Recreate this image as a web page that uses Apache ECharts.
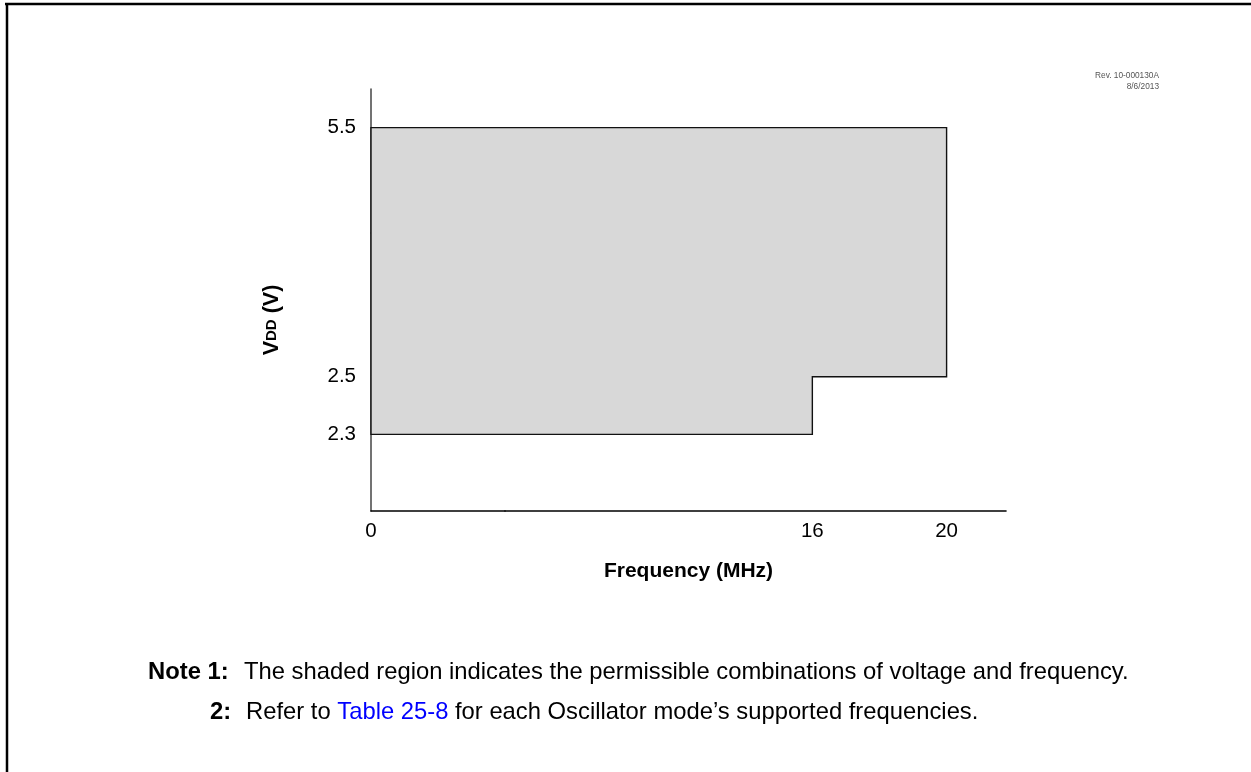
<!DOCTYPE html>
<html><head><meta charset="utf-8">
<script src="https://cdn.jsdelivr.net/npm/echarts@6/dist/echarts.min.js"></script>
<style>html,body{margin:0;padding:0;background:#fff}#c{width:1251px;height:772px}</style>
</head><body><div id="c"></div>
<script>
// Operating region outline (frequency in MHz, VDD in volts)
const freqMHz = [0, 16, 16, 20, 20, 0];
const vddV = [2.3, 2.3, 2.5, 2.5, 5.5, 5.5];
// Axis tick labels
const freqTicks = [0, 16, 20];
const vddTicks = [2.3, 2.5, 5.5];

const FONT = '"Liberation Sans", Arial, sans-serif';
const chart = echarts.init(document.getElementById('c'), null, {renderer: 'canvas'});

chart.setOption({
  animation: false,
  backgroundColor: '#fff',
  grid: {left: 371, top: 89, right: 245, bottom: 261, containLabel: false},
  xAxis: {
    type: 'value',
    min: 0, max: 21.77,
    breaks: [{start: 4, end: 6.85, gap: 0}],
    breakArea: {show: false},
    name: 'Frequency (MHz)',
    nameLocation: 'middle',
    nameGap: 50,
    nameTextStyle: {fontFamily: FONT, fontSize: 21, fontWeight: 'bold', color: '#000'},
    axisLine: {show: true, onZero: false, lineStyle: {color: '#000', width: 1.6}},
    axisTick: {show: false},
    splitLine: {show: false},
    axisLabel: {customValues: freqTicks, fontFamily: FONT, fontSize: 20.5, color: '#000', margin: 10,
      formatter: v => String(v)}
  },
  yAxis: {
    type: 'value',
    min: 2.034, max: 5.634,
    breaks: [{start: 3.0, end: 5.135, gap: 0}],
    breakArea: {show: false},
    name: '{v|V}{d|DD}{v| (V)}',
    nameLocation: 'middle',
    nameGap: 88,
    nameRotate: 90,
    nameTextStyle: {fontFamily: FONT, color: '#000', padding: [0, 40, 0, 0],
      rich: {v: {fontFamily: FONT, fontSize: 21.5, fontWeight: 'bold', color: '#000'},
             d: {fontFamily: FONT, fontSize: 15, fontWeight: 'bold', color: '#000'}}},
    axisLine: {show: true, onZero: false, lineStyle: {color: '#444', width: 1.5}},
    axisTick: {show: false},
    splitLine: {show: false},
    axisLabel: {customValues: vddTicks, fontFamily: FONT, fontSize: 20.5, color: '#000', margin: 15,
      formatter: v => v.toFixed(1)}
  },
  series: [{
    type: 'custom',
    silent: true,
    data: [[0, 0]],
    renderItem: function (params, api) {
      const pts = freqMHz.map((f, i) => api.coord([f, vddV[i]]));
      return {
        type: 'polygon',
        shape: {points: pts},
        style: {fill: '#d8d8d8', stroke: '#111', lineWidth: 1.4}
      };
    }
  }],
  graphic: [
    {type: 'line', shape: {x1: 5, y1: 4, x2: 1251, y2: 4}, style: {stroke: '#000', lineWidth: 2.5}},
    {type: 'line', shape: {x1: 7, y1: 3, x2: 7, y2: 772}, style: {stroke: '#000', lineWidth: 2.5}},
    {type: 'text', x: 1159, y: 76, style: {text: 'Rev. 10-000130A', fontFamily: FONT, fontSize: 8.3, fill: '#555', align: 'right', verticalAlign: 'middle'}},
    {type: 'text', x: 1159, y: 87, style: {text: '8/6/2013', fontFamily: FONT, fontSize: 8.3, fill: '#555', align: 'right', verticalAlign: 'middle'}},
    {type: 'text', x: 148, y: 672, style: {text: 'Note 1:', fontFamily: FONT, fontSize: 23.8, fontWeight: 'bold', fill: '#000', align: 'left', verticalAlign: 'middle'}},
    {type: 'text', x: 244, y: 672, style: {text: 'The shaded region indicates the permissible combinations of voltage and frequency.', fontFamily: FONT, fontSize: 23.8, fill: '#000', align: 'left', verticalAlign: 'middle'}},
    {type: 'text', x: 210, y: 712, style: {text: '2:', fontFamily: FONT, fontSize: 23.8, fontWeight: 'bold', fill: '#000', align: 'left', verticalAlign: 'middle'}},
    {type: 'text', x: 246, y: 712, style: {
      text: 'Refer to {l|Table 25-8} for each Oscillator mode\u2019s supported frequencies.',
      fontFamily: FONT, fontSize: 23.8, fill: '#000', align: 'left', verticalAlign: 'middle',
      rich: {l: {fontFamily: FONT, fontSize: 23.8, fill: '#0000ff'}}}}
  ]
});
</script></body></html>
